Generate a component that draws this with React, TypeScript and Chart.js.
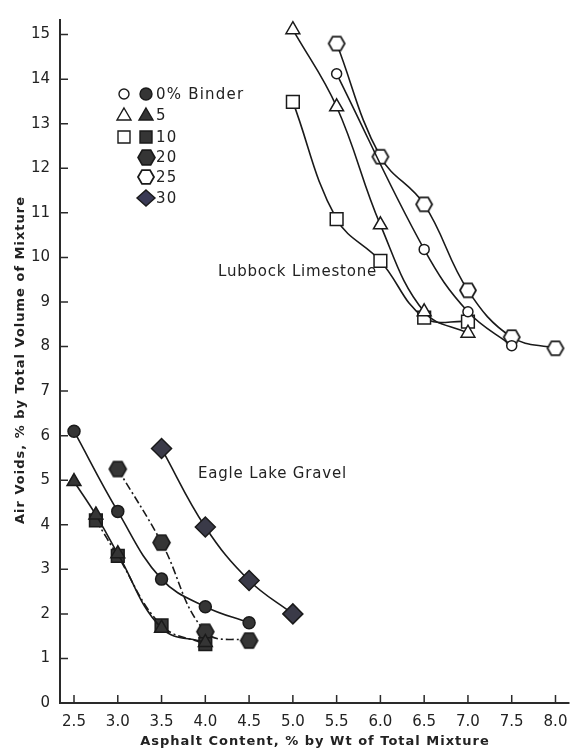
import React, { useEffect, useRef } from "react";
import { Chart, registerables } from "chart.js";

Chart.register(...registerables);

// Axis ticks
const asphaltTicks = [2.5, 3.0, 3.5, 4.0, 4.5, 5.0, 5.5, 6.0, 6.5, 7.0, 7.5, 8.0];
const voidTicks = [0, 1, 2, 3, 4, 5, 6, 7, 8, 9, 10, 11, 12, 13, 14, 15];

// Lubbock Limestone (open symbols)
const lubbock0X = [5.5, 6.5, 7.0, 7.5];
const lubbock0Y = [14.12, 10.18, 8.78, 8.02];
const lubbock5X = [5.0, 5.5, 6.0, 6.5, 7.0];
const lubbock5Y = [15.11, 13.38, 10.73, 8.78, 8.3];
const lubbock10X = [5.0, 5.5, 6.0, 6.5, 7.0];
const lubbock10Y = [13.49, 10.86, 9.92, 8.65, 8.56];
const lubbock25X = [5.5, 6.0, 6.5, 7.0, 7.5, 8.0];
const lubbock25Y = [14.8, 12.26, 11.19, 9.26, 8.21, 7.96];

// Eagle Lake Gravel (filled symbols)
const eagle0X = [2.5, 3.0, 3.5, 4.0, 4.5];
const eagle0Y = [6.1, 4.3, 2.78, 2.16, 1.8];
const eagle5X = [2.5, 2.75, 3.0, 3.5, 4.0];
const eagle5Y = [4.97, 4.22, 3.35, 1.68, 1.36];
const eagle10X = [2.75, 3.0, 3.5, 4.0];
const eagle10Y = [4.1, 3.3, 1.74, 1.32];
const eagle20X = [3.0, 3.5, 4.0, 4.5];
const eagle20Y = [5.25, 3.6, 1.6, 1.4];
const eagle30X = [3.5, 4.0, 4.5, 5.0];
const eagle30Y = [5.71, 3.95, 2.75, 2.0];

const legendLabels = ["0% Binder", "5", "10", "20", "25", "30"];

const INK = "#1a1a1a";
const FILL = "#353535";
const FONT = "'DejaVu Sans', sans-serif";

function makeHexagon(r: number, fill: string, stroke: string, lw: number): HTMLCanvasElement {
  const size = Math.ceil(2 * r + lw + 2);
  const c = document.createElement("canvas");
  c.width = size;
  c.height = size;
  const g = c.getContext("2d")!;
  const cx = size / 2;
  const cy = size / 2;
  g.beginPath();
  for (let i = 0; i < 6; i++) {
    const a = (Math.PI / 3) * i;
    const px = cx + r * Math.cos(a);
    const py = cy + r * Math.sin(a);
    if (i === 0) g.moveTo(px, py);
    else g.lineTo(px, py);
  }
  g.closePath();
  g.fillStyle = fill;
  g.fill();
  g.lineWidth = lw;
  g.strokeStyle = stroke;
  g.stroke();
  return c;
}

function pts(xs: number[], ys: number[]) {
  return xs.map((x, i) => ({ x, y: ys[i] }));
}

export default function App() {
  const ref = useRef<HTMLCanvasElement | null>(null);

  useEffect(() => {
    const canvas = ref.current;
    if (!canvas) return;

    const openHex = makeHexagon(8, "#ffffff", INK, 1.8);
    const filledHex = makeHexagon(8.5, FILL, INK, 1.6);

    const base = {
      borderColor: INK,
      borderWidth: 1.6,
      pointBorderColor: INK,
      pointBorderWidth: 1.5,
      tension: 0.4,
      fill: false,
    };

    const datasets: any[] = [
      { ...base, label: "Lubbock 0", data: pts(lubbock0X, lubbock0Y), pointStyle: "circle", pointRadius: 5, pointBackgroundColor: "#fff" },
      { ...base, label: "Lubbock 5", data: pts(lubbock5X, lubbock5Y), pointStyle: "triangle", pointRadius: 8, pointBackgroundColor: "#fff" },
      { ...base, label: "Lubbock 10", data: pts(lubbock10X, lubbock10Y), pointStyle: "rect", pointRadius: 9, pointBackgroundColor: "#fff" },
      { ...base, label: "Lubbock 25", data: pts(lubbock25X, lubbock25Y), pointStyle: openHex, pointRadius: 8, pointBackgroundColor: "#fff" },
      { ...base, label: "Eagle 0", data: pts(eagle0X, eagle0Y), pointStyle: "circle", pointRadius: 6, pointBackgroundColor: FILL },
      { ...base, label: "Eagle 5", data: pts(eagle5X, eagle5Y), pointStyle: "triangle", pointRadius: 8, pointBackgroundColor: FILL },
      { ...base, label: "Eagle 10", data: pts(eagle10X, eagle10Y), pointStyle: "rect", pointRadius: 9, pointBackgroundColor: FILL, borderDash: [8, 3, 2, 3] },
      { ...base, label: "Eagle 20", data: pts(eagle20X, eagle20Y), pointStyle: filledHex, pointRadius: 8, pointBackgroundColor: FILL, borderDash: [8, 3, 2, 3] },
      { ...base, label: "Eagle 30", data: pts(eagle30X, eagle30Y), pointStyle: "rectRot", pointRadius: 10, pointBackgroundColor: "#3a3a48" },
    ];

    const decorations = {
      id: "decorations",
      afterDraw(chart: any) {
        const { ctx, chartArea } = chart;
        const xs = chart.scales.x;
        const ys = chart.scales.y;
        ctx.save();

        // axis lines
        ctx.strokeStyle = "#2a2a2a";
        ctx.lineWidth = 2;
        ctx.beginPath();
        ctx.moveTo(chartArea.left, chartArea.top);
        ctx.lineTo(chartArea.left, chartArea.bottom);
        ctx.lineTo(chartArea.right, chartArea.bottom);
        ctx.stroke();

        // inward tick marks
        ctx.lineWidth = 1.5;
        ctx.beginPath();
        voidTicks.forEach((v) => {
          if (v === 0) return;
          const py = ys.getPixelForValue(v);
          ctx.moveTo(chartArea.left, py);
          ctx.lineTo(chartArea.left + 8, py);
        });
        asphaltTicks.forEach((v) => {
          const px = xs.getPixelForValue(v);
          ctx.moveTo(px, chartArea.bottom);
          ctx.lineTo(px, chartArea.bottom - 8);
        });
        ctx.stroke();

        // axis titles
        ctx.fillStyle = "#222";
        ctx.font = `bold 13px ${FONT}`;
        ctx.textAlign = "center";
        ctx.textBaseline = "middle";
        (ctx as any).letterSpacing = "1px";
        ctx.fillText("Asphalt Content, % by Wt of Total Mixture", 315, 742);
        ctx.save();
        ctx.translate(21, 360);
        ctx.rotate(-Math.PI / 2);
        ctx.fillText("Air Voids, % by Total Volume of Mixture", 0, 0);
        ctx.restore();

        // material labels
        ctx.font = `15px ${FONT}`;
        ctx.textAlign = "left";
        (ctx as any).letterSpacing = "0.8px";
        ctx.fillText("Lubbock Limestone", 218, 272);
        ctx.fillText("Eagle Lake Gravel", 198, 474);

        // legend
        const rows = [94, 115, 137, 157, 177, 198];
        const openX = 124;
        const fillX = 146;
        ctx.lineWidth = 1.4;
        ctx.strokeStyle = INK;
        const drawShape = (kind: string, x: number, y: number, filled: boolean, color = FILL) => {
          ctx.beginPath();
          if (kind === "circle") ctx.arc(x, y, filled ? 6 : 5, 0, Math.PI * 2);
          else if (kind === "triangle") {
            ctx.moveTo(x, y - 7);
            ctx.lineTo(x + 7, y + 5);
            ctx.lineTo(x - 7, y + 5);
            ctx.closePath();
          } else if (kind === "rect") ctx.rect(x - 6, y - 6, 12, 12);
          else if (kind === "diamond") {
            ctx.moveTo(x, y - 8);
            ctx.lineTo(x + 9, y);
            ctx.lineTo(x, y + 8);
            ctx.lineTo(x - 9, y);
            ctx.closePath();
          }
          ctx.fillStyle = filled ? color : "#fff";
          ctx.fill();
          ctx.stroke();
        };
        drawShape("circle", openX, rows[0], false);
        drawShape("circle", fillX, rows[0], true);
        drawShape("triangle", openX, rows[1], false);
        drawShape("triangle", fillX, rows[1], true);
        drawShape("rect", openX, rows[2], false);
        drawShape("rect", fillX, rows[2], true);
        ctx.drawImage(filledHex, Math.round(fillX - filledHex.width / 2), Math.round(rows[3] - filledHex.height / 2));
        ctx.drawImage(openHex, Math.round(fillX - openHex.width / 2), Math.round(rows[4] - openHex.height / 2));
        drawShape("diamond", fillX, rows[5], true, "#3a3a55");

        ctx.fillStyle = "#222";
        ctx.font = `15px ${FONT}`;
        (ctx as any).letterSpacing = "1.2px";
        legendLabels.forEach((t, i) => {
          ctx.fillText(t, 156, rows[i] + 1);
        });
        ctx.restore();
      },
    };

    const chart = new Chart(canvas, {
      type: "line",
      data: { datasets },
      options: {
        animation: false,
        responsive: false,
        layout: { padding: { top: 2, right: 0, left: 0, bottom: 0 } },
        plugins: { legend: { display: false }, tooltip: { enabled: false } },
        scales: {
          x: {
            type: "linear",
            min: 2.34,
            max: 8.16,
            grid: { display: false, drawTicks: false },
            border: { display: false },
            afterBuildTicks: (s: any) => {
              s.ticks = asphaltTicks.map((v) => ({ value: v }));
            },
            afterFit: (s: any) => {
              s.height = 51;
            },
            ticks: {
              autoSkip: false,
              maxRotation: 0,
              padding: 10,
              color: "#222",
              font: { family: FONT, size: 15 },
              callback: (v: any) => Number(v).toFixed(1),
            },
          },
          y: {
            type: "linear",
            min: 0,
            max: 15.35,
            grid: { display: false, drawTicks: false },
            border: { display: false },
            afterBuildTicks: (s: any) => {
              s.ticks = voidTicks.map((v) => ({ value: v }));
            },
            afterFit: (s: any) => {
              s.width = 60;
            },
            ticks: {
              padding: 10,
              color: "#222",
              font: { family: FONT, size: 15 },
              callback: (v: any) => String(v),
            },
          },
        },
      },
      plugins: [decorations],
    });

    return () => chart.destroy();
  }, []);

  return (
    <div style={{ position: "absolute", left: 0, top: 0, width: 581, height: 754, background: "#fff" }}>
      <canvas ref={ref} width={581} height={754} />
    </div>
  );
}
